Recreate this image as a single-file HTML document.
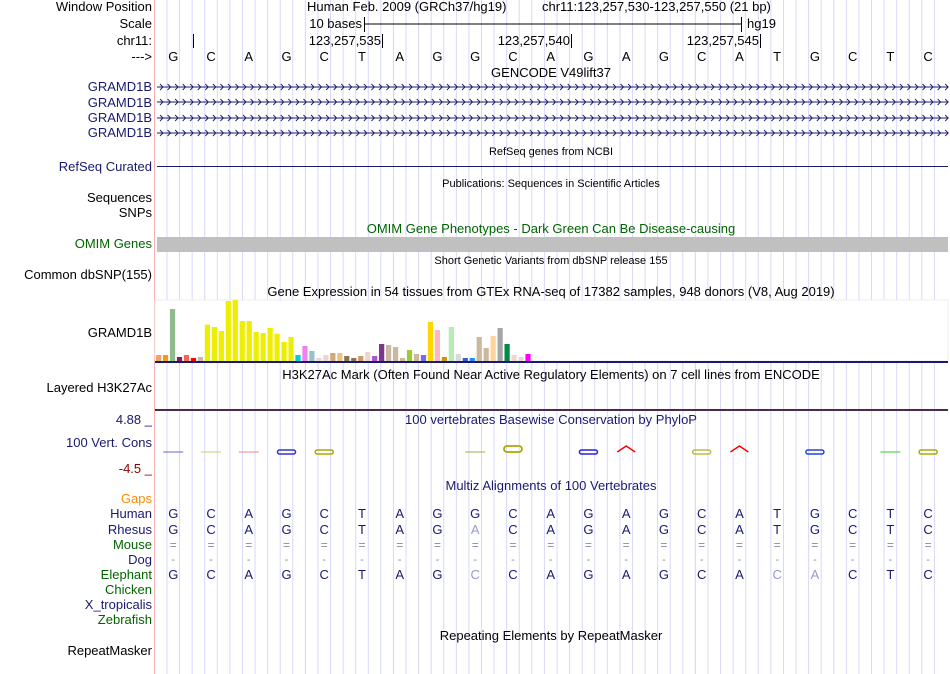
<!DOCTYPE html>
<html><head><meta charset="utf-8"><style>
body{margin:0;background:#fff;}
svg{display:block;font-family:"Liberation Sans",sans-serif;}
</style></head><body>
<svg id="s" width="950" height="674" xmlns="http://www.w3.org/2000/svg"></svg>
<script>
const seqHuman="GCAGCTAGGCAGAGCATGCTC".split("");
const seqRhesus="GCAGCTAGACAGAGCATGCTC".split("");
const rhesusLight=[8];
const seqElephant="GCAGCTAGCCAGAGCACACTC".split("");
const elephantLight=[8,16,17];
const gtexValues=[18,18,156,12,18,9,12,109,102,90,180,183,120,120,87,84,99,82,57,72,18,45,30,9,18,24,24,15,9,15,27,15,51,48,42,9,33,21,18,117,93,12,102,21,9,9,72,39,75,99,51,18,12,21];
const gtexColors=["#f4a460","#f39c12","#8fbc8f","#8b1a5a","#ee6a50","#ff0000","#cdb79e","#eeee00","#eeee00","#eeee00","#eeee00","#eeee00","#eeee00","#eeee00","#eeee00","#eeee00","#eeee00","#eeee00","#eeee00","#eeee00","#00ced1","#ee82ee","#9ac0cd","#eed5d2","#eed5d2","#cdaa7d","#f0c080","#8b7355","#8b7355","#cd9b63","#eed5d2","#b452cd","#7a378b","#cdb79e","#cdb79e","#cdb79e","#9acd32","#cdb79e","#7b68ee","#ffd700","#ffb6c1","#cd950c","#b4eeb4","#d9d9d9","#3a5fcd","#1e90ff","#cdb79e","#cdb79e","#ffd39b","#a6a6a6","#008b45","#eed5d2","#eed5d2","#ff00ff"];
const consBases=[0,1,2,3,4,8,9,11,12,14,15,17,19,20];
const consColors=['#6666dd','#cccc66','#ee8888','#3333cc','#aaaa00','#aaaa44','#aaaa00','#2222dd','#ff0000','#bbbb44','#ff0000','#2244dd','#33cc33','#aaaa00'];
const consShape=['line','line','line','box','box','line','ring','box','hat','box','hat','box','line','box'];
const svg=document.getElementById('s');const NS="http://www.w3.org/2000/svg";
function el(tag,attrs,name,text){const e=document.createElementNS(NS,tag);for(const k in attrs)e.setAttribute(k,attrs[k]);


if(text!==undefined)e.textContent=text;svg.appendChild(e);return e;}
const X0=154.4,BW=(947-154.4)/21;
function bx(i){return X0+BW*(i+0.5);}
for(let k=1;k<63;k++){const x=X0+k*BW/3;el('line',{x1:x,x2:x,y1:0,y2:674,stroke:'#d8d8f8','stroke-width':1},'grid-line');}
el('line',{x1:154.5,x2:154.5,y1:0,y2:674,stroke:'#f4b0b0','stroke-width':1},'label-divider');
const labels=[["Window Position",11,"#000"],["Scale",28,"#000"],["chr11:",45,"#000"],["--->",61,"#000"],["GRAMD1B",91,"#191970"],["GRAMD1B",107,"#191970"],["GRAMD1B",122,"#191970"],["GRAMD1B",137,"#191970"],["RefSeq Curated",171,"#191970"],["Sequences",202,"#000"],["SNPs",217,"#000"],["OMIM Genes",248,"#006400"],["Common dbSNP(155)",279,"#000"],["GRAMD1B",337,"#000"],["Layered H3K27Ac",392,"#000"],["4.88 _",424,"#191970"],["100 Vert. Cons",447,"#191970"],["-4.5 _",473,"#8b0000"],["Gaps",503,"#ff8c00"],["Human",518,"#191970"],["Rhesus",534,"#191970"],["Mouse",549,"#006400"],["Dog",564,"#191970"],["Elephant",579,"#006400"],["Chicken",594,"#006400"],["X_tropicalis",609,"#191970"],["Zebrafish",624,"#006400"],["RepeatMasker",655,"#000"]];
labels.forEach(l=>{el('text',{x:152,y:l[1],'text-anchor':'end','font-size':13,fill:l[2]},'track-label',l[0]);});
el('text',{x:307,y:11,'font-size':13},'assembly-title',"Human Feb. 2009 (GRCh37/hg19)");
el('text',{x:542,y:11,'font-size':13},'window-range',"chr11:123,257,530-123,257,550 (21 bp)");
const titles=[["GENCODE V49lift37",77,13,"#000"],["RefSeq genes from NCBI",155,11,"#000"],["Publications: Sequences in Scientific Articles",187,11,"#000"],["OMIM Gene Phenotypes - Dark Green Can Be Disease-causing",233,13,"#006400"],["Short Genetic Variants from dbSNP release 155",264,11,"#000"],["Gene Expression in 54 tissues from GTEx RNA-seq of 17382 samples, 948 donors (V8, Aug 2019)",296,13,"#000"],["H3K27Ac Mark (Often Found Near Active Regulatory Elements) on 7 cell lines from ENCODE",379,13,"#000"],["100 vertebrates Basewise Conservation by PhyloP",424,13,"#191970"],["Multiz Alignments of 100 Vertebrates",490,13,"#191970"],["Repeating Elements by RepeatMasker",640,13,"#000"]];
titles.forEach(t=>{el('text',{x:551,y:t[1],'text-anchor':'middle','font-size':t[2],fill:t[3]},'track-title',t[0]);});
el('text',{x:362,y:28,'text-anchor':'end','font-size':13},'scale-label',"10 bases");
el('line',{x1:364,x2:741,y1:24,y2:24,stroke:'#000'},'scale-bar');
el('line',{x1:364.5,x2:364.5,y1:17,y2:32,stroke:'#000'},'scale-tick');
el('line',{x1:741.5,x2:741.5,y1:17,y2:32,stroke:'#000'},'scale-tick');
el('text',{x:747,y:28,'font-size':13},'scale-assembly',"hg19");
[[193,""],[382,"123,257,535"],[571,"123,257,540"],[760,"123,257,545"]].forEach(p=>{el('line',{x1:p[0]+.5,x2:p[0]+.5,y1:34,y2:48,stroke:'#000'},'position-tick');if(p[1])el('text',{x:p[0]-1,y:45,'text-anchor':'end','font-size':13},'position-label',p[1]);});
seqHuman.forEach((c,i)=>el('text',{x:bx(i),y:61,'text-anchor':'middle','font-size':13},'base-letter',c));
[87,102,118,133].forEach(y=>{el('line',{x1:157,x2:948,y1:y,y2:y,stroke:'#191970'},'gene-line');let d='';for(let x=160;x<948;x+=7.55)d+=`M${x},${y-3}L${x+3},${y}L${x},${y+3}`;el('path',{d:d,stroke:'#191970',fill:'none','stroke-width':0.9},'gene-strand-arrows');});
el('line',{x1:157,x2:948,y1:166.5,y2:166.5,stroke:'#191970'},'refseq-line');
el('rect',{x:157,y:237,width:791,height:15,fill:'#c0c0c0'},'omim-bar');
el('rect',{x:155,y:300,width:793,height:61,fill:'#fff',stroke:'#eee'},'gtex-plot-bg');
const base=361,scale=61/183;
gtexValues.forEach((v,i)=>{const h=v*scale;el('rect',{x:156+i*6.97,y:base-h,width:5.2,height:h,fill:gtexColors[i]},'gtex-bar');});
el('rect',{x:155,y:361,width:793,height:2,fill:'#191970'},'gtex-baseline');
el('rect',{x:155,y:409,width:793,height:2,fill:'#4a2a4a'},'h3k27ac-line');
consBases.forEach((b,i)=>{const x=bx(b),c=consColors[i],s=consShape[i];
if(s==='line')el('line',{x1:x-10,x2:x+10,y1:452,y2:452,stroke:c,'stroke-width':1},'phylop-glyph');
else if(s==='box')el('rect',{x:x-9,y:450,width:18,height:4,rx:2,fill:'none',stroke:c,'stroke-width':1.5},'phylop-glyph');
else if(s==='ring')el('rect',{x:x-9,y:446,width:18,height:6,rx:3,fill:'none',stroke:c,'stroke-width':1.8},'phylop-glyph');
else el('path',{d:`M${x-9},${452}L${x},${446}L${x+9},${452}`,fill:'none',stroke:c,'stroke-width':1.5},'phylop-glyph');});
function row(seq,y,light,name){seq.forEach((c,i)=>el('text',{x:bx(i),y:y,'text-anchor':'middle','font-size':13,fill:light.includes(i)?'#9999cc':'#191970'},name,c));}
row(seqHuman,518,[],'human-base');
row(seqRhesus,534,rhesusLight,'rhesus-base');
seqHuman.forEach((c,i)=>el('text',{x:bx(i),y:549,'text-anchor':'middle','font-size':12,fill:'#8888aa'},'mouse-match','='));
seqHuman.forEach((c,i)=>el('text',{x:bx(i),y:563,'text-anchor':'middle','font-size':11,fill:'#8888aa'},'dog-gap','-'));
row(seqElephant,579,elephantLight,'elephant-base');
</script>
</body></html>
